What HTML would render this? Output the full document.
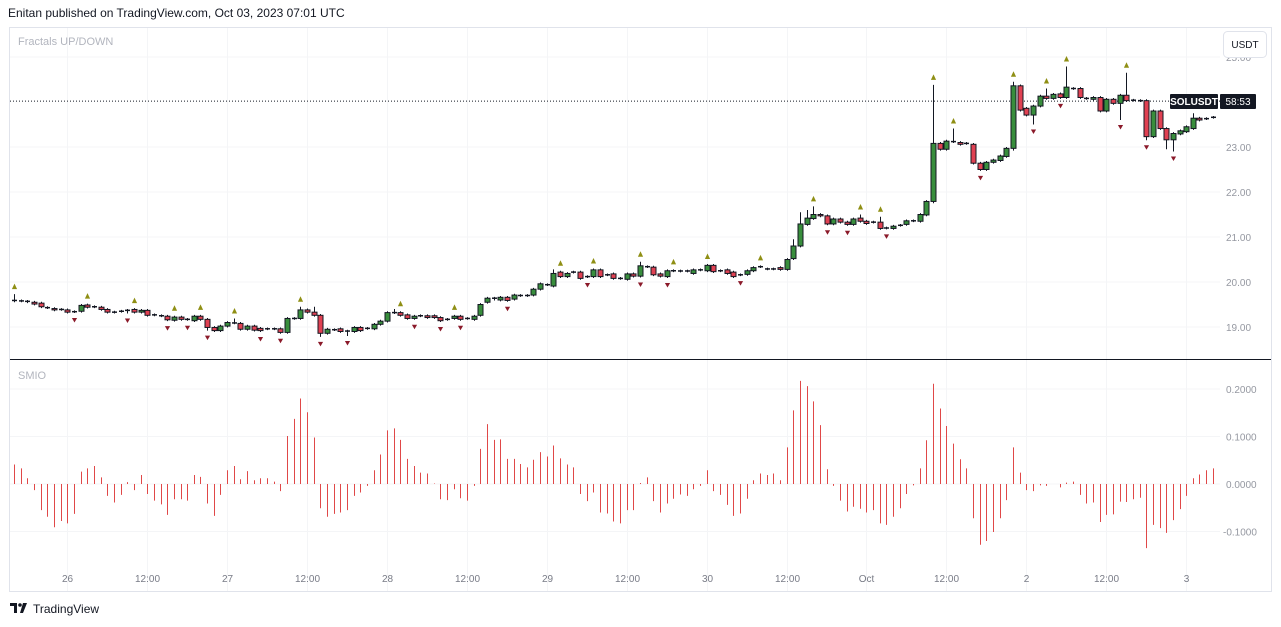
<!DOCTYPE html>
<html><head><meta charset="utf-8">
<style>
html,body{margin:0;padding:0;background:#fff;}
body{width:1281px;height:627px;overflow:hidden;position:relative;font-family:"Liberation Sans",sans-serif;}
.hdr{position:absolute;left:8px;top:6px;font-size:12px;color:#131722;}
svg{position:absolute;left:0;top:0;}
</style></head>
<body>
<div class="hdr">Enitan published on TradingView.com, Oct 03, 2023 07:01 UTC</div>
<svg id="chart" width="1281" height="627"></svg>
<script>
const opens=[19.59,19.58,19.57,19.55,19.53,19.43,19.41,19.39,19.38,19.34,19.35,19.49,19.45,19.44,19.39,19.33,19.35,19.37,19.39,19.33,19.37,19.27,19.25,19.24,19.15,19.22,19.17,19.14,19.24,19.17,18.99,18.92,19.02,19.09,19.08,18.95,19.02,18.97,18.96,18.96,18.96,18.88,19.19,19.19,19.38,19.33,19.26,18.86,18.94,18.96,18.91,18.90,18.99,18.97,18.96,19.06,19.13,19.32,19.32,19.27,19.19,19.25,19.25,19.25,19.21,19.17,19.19,19.24,19.19,19.17,
19.26,19.55,19.62,19.60,19.66,19.62,19.70,19.70,19.71,19.84,19.94,19.91,20.22,20.12,20.22,20.22,20.12,20.12,20.27,20.16,20.18,20.08,20.06,20.18,20.13,20.34,20.33,20.18,20.12,20.25,20.245,20.245,20.19,20.27,20.25,20.37,20.25,20.27,20.22,20.16,20.17,20.25,20.34,20.29,20.29,20.32,20.28,20.52,20.80,21.28,21.41,21.50,21.47,21.29,21.40,21.33,21.28,21.42,21.35,21.33,21.33,21.20,21.19,21.26,21.28,21.36,21.35,21.49,
21.79,23.08,22.95,23.12,23.10,23.08,23.06,22.64,22.50,22.66,22.70,22.79,22.97,24.36,23.86,23.71,23.91,24.13,24.08,24.18,24.10,24.30,24.30,24.08,24.06,24.10,23.80,24.06,23.97,24.15,24.04,24.03,24.03,23.23,23.80,23.41,23.16,23.29,23.34,23.41,23.64,23.63,23.66];
const closes=[19.58,19.58,19.56,19.51,19.45,19.43,19.38,19.39,19.33,19.34,19.48,19.44,19.45,19.39,19.33,19.33,19.35,19.37,19.33,19.37,19.26,19.27,19.25,19.16,19.22,19.17,19.17,19.24,19.17,18.99,18.92,19.02,19.10,19.09,18.95,19.02,18.93,18.92,18.96,18.96,18.88,19.19,19.19,19.38,19.33,19.26,18.86,18.95,18.94,18.90,18.91,18.99,18.92,18.97,19.06,19.13,19.32,19.32,19.26,19.19,19.24,19.25,19.21,19.21,19.14,19.17,19.24,19.17,19.19,19.24,
19.50,19.64,19.64,19.66,19.59,19.71,19.70,19.70,19.84,19.96,19.94,20.19,20.12,20.19,20.22,20.08,20.12,20.27,20.12,20.16,20.08,20.08,20.18,20.13,20.36,20.34,20.16,20.13,20.25,20.25,20.245,20.245,20.27,20.27,20.37,20.23,20.25,20.19,20.12,20.16,20.25,20.32,20.34,20.29,20.29,20.28,20.50,20.80,21.29,21.42,21.50,21.47,21.29,21.40,21.33,21.28,21.40,21.35,21.30,21.33,21.19,21.20,21.24,21.26,21.36,21.36,21.50,21.79,
23.08,22.95,23.13,23.12,23.06,23.08,22.64,22.50,22.66,22.71,22.80,22.97,24.36,23.82,23.71,23.91,24.13,24.08,24.17,24.10,24.33,24.30,24.10,24.08,24.10,23.80,24.06,23.97,24.15,24.03,24.04,24.03,23.23,23.80,23.41,23.16,23.30,23.36,23.45,23.64,23.60,23.63,23.66];
const highWicks={0:19.73,33:19.19,43:19.45,45:19.45,57:19.40,81:20.28,94:20.45,117:20.95,118:21.55,119:21.60,120:21.68,127:21.50,130:21.45,138:24.38,141:23.41,150:24.45,155:24.30,158:24.79,167:24.65,177:23.75};
const lowWicks={17:19.30,29:18.92,46:18.78,50:18.80,94:20.10,138:21.75,150:22.92,153:23.50,166:23.60,170:23.15,173:22.95,174:22.90};
const fractalUp=[0,11,18,24,28,33,43,58,66,82,87,94,99,104,112,120,127,130,138,141,150,155,158,167];
const fractalDown=[9,17,23,26,29,37,40,46,50,60,64,67,74,86,94,98,109,122,125,131,145,153,157,166,170,174];
const smio=[41,33,12,-13,-55,-69,-91,-78,-83,-63,26,33,38,14,-25,-39,-23,4,-13,19,-21,-35,-43,-65,-32,-32,-35,19,15,-41,-67,-23,29,38,10,27,8,12,12,5,-15,101,137,180,151,98,-51,-69,-63,-60,-55,-25,-18,-4,29,62,113,117,93,53,38,24,22,1,-32,-34,-11,-30,-35,-4,74,126,93,94,53,53,42,35,51,67,58,81,54,41,35,-21,-36,-18,-60,-62,-79,-83,-55,-55,
2,14,-36,-60,-41,-31,-22,-25,-11,-4,29,-15,-23,-44,-67,-62,-31,8,22,19,22,8,77,155,217,206,174,124,31,-4,-35,-58,-48,-52,-60,-55,-83,-86,-69,-51,-21,-3,33,92,211,159,122,85,52,33,-72,-128,-120,-101,-72,-34,77,24,-13,-15,-3,-4,0,-7,3,5,-23,-41,-39,-80,-65,-64,-37,-38,-32,-29,-135,-86,-93,-103,-76,-53,-25,12,20,29,33];
const priceTicks=[19,20,21,22,23,25];
const smioTicks=[0.2,0.1,0,-0.1];
const timeLabels=["26","12:00","27","12:00","28","12:00","29","12:00","30","12:00","Oct","12:00","2","12:00","3"];
const timeIdx=[8,20,32,44,56,68,80,92,104,116,128,140,152,164,176];
const lastPrice=24.02;

const NS="http://www.w3.org/2000/svg";
const svg=document.getElementById('chart');
function mk(t,a,p){const e=document.createElementNS(NS,t);for(const k in a)e.setAttribute(k,a[k]);(p||svg).appendChild(e);return e;}
const X=i=>Math.round(14+i*6.66)+0.5;
const Y=p=>147+(23-p)*45;
const SY=v=>484-v*475;

let e=mk('rect',{x:9.5,y:27.5,width:1262,height:564,fill:'none',stroke:'#e0e3eb'});

timeIdx.forEach((ix,k)=>{const g=mk('line',{x1:X(ix),x2:X(ix),y1:28,y2:591,stroke:'#f4f5f7'});
});
priceTicks.forEach(p=>{const g=mk('line',{x1:10,x2:1220,y1:Y(p),y2:Y(p),stroke:'#f4f5f7'});

const t=mk('text',{x:1226,y:Y(p)+4,'font-size':10,fill:'#9598a1'});t.textContent=p.toFixed(2);
});
smioTicks.forEach(v=>{const g=mk('line',{x1:10,x2:1220,y1:SY(v),y2:SY(v),stroke:'#f4f5f7'});

const t=mk('text',{x:v<0?1223:1226,y:SY(v)+4,'font-size':10,fill:'#9598a1'});t.textContent=v.toFixed(4);
});
timeIdx.forEach((ix,k)=>{const t=mk('text',{x:X(ix),y:582,'font-size':10,fill:'#787b86','text-anchor':'middle'});
t.textContent=timeLabels[k];});
e=mk('line',{x1:10,x2:1271,y1:359.5,y2:359.5,stroke:'#131722'});

e=mk('text',{x:18,y:45,'font-size':11,fill:'#b2b5be'});e.textContent='Fractals UP/DOWN';

e=mk('text',{x:18,y:379,'font-size':11,fill:'#b2b5be'});e.textContent='SMIO';

e=mk('line',{x1:10,x2:1220,y1:Y(lastPrice),y2:Y(lastPrice),stroke:'#131722','stroke-dasharray':'1,2'});

const hi=i=>highWicks[i]!==undefined?highWicks[i]:Math.max(opens[i],closes[i])+0.03;
const lo=i=>lowWicks[i]!==undefined?lowWicks[i]:Math.min(opens[i],closes[i])-0.03;
for(let i=0;i<closes.length;i++){
 const x=X(i);
 const g=mk('g',{});
 
 
 mk('line',{x1:x,x2:x,y1:Y(hi(i)),y2:Y(lo(i)),stroke:'#131722','stroke-width':1},g);
 const top=Y(Math.max(opens[i],closes[i])),bot=Y(Math.min(opens[i],closes[i]));
 const up=closes[i]>opens[i];
 if(Math.abs(bot-top)<1.2){mk('line',{x1:x-2.5,x2:x+2.5,y1:top,y2:top,stroke:'#131722','stroke-width':1.5},g);}
 else mk('rect',{x:x-2.5,y:top,width:5,height:bot-top,fill:up?'#388e3c':'#e04152',stroke:'#131722','stroke-width':1},g);
}
fractalUp.forEach(i=>{const x=X(i),y=Y(hi(i))-5;
const t=mk('path',{d:`M${x-2.6},${y} L${x+2.6},${y} L${x},${y-5.5} Z`,fill:'#8f8f14'});
});
fractalDown.forEach(i=>{const x=X(i),y=Y(lo(i))+5;
const t=mk('path',{d:`M${x-2.6},${y} L${x+2.6},${y} L${x},${y+4.5} Z`,fill:'#8b1a2a'});
});
smio.forEach((v,i)=>{const val=v/1000;const x=X(i);
const b=mk('line',{x1:x,x2:x,y1:SY(0),y2:SY(val),stroke:'#e04848','stroke-width':1});
});
e=mk('rect',{x:1170,y:94,width:48,height:15,fill:'#131722',rx:1});

e=mk('text',{x:1194,y:105,'font-size':10,'font-weight':'bold',fill:'#fff','text-anchor':'middle'});e.textContent='SOLUSDT';

e=mk('rect',{x:1220,y:94,width:36,height:15,fill:'#131722',rx:1});

e=mk('text',{x:1238,y:105,'font-size':10,fill:'#fff','text-anchor':'middle'});e.textContent='58:53';

e=mk('rect',{x:1223.5,y:31.5,width:43,height:26,fill:'#fff',stroke:'#e0e3eb',rx:4});

e=mk('text',{x:1245,y:48,'font-size':10,fill:'#131722','text-anchor':'middle'});e.textContent='USDT';

e=mk('g',{});
mk('path',{d:'M10,603 h7 v10 h-3 v-7 h-4 z',fill:'#131722'},e);
mk('circle',{cx:20,cy:605,r:1.8,fill:'#131722'},e);
mk('path',{d:'M23,603 h4 l-4,10 h-3 z',fill:'#131722'},e);
const ft=mk('text',{x:33,y:613,'font-size':12,fill:'#131722'},e);ft.textContent='TradingView';
</script>
</body></html>
